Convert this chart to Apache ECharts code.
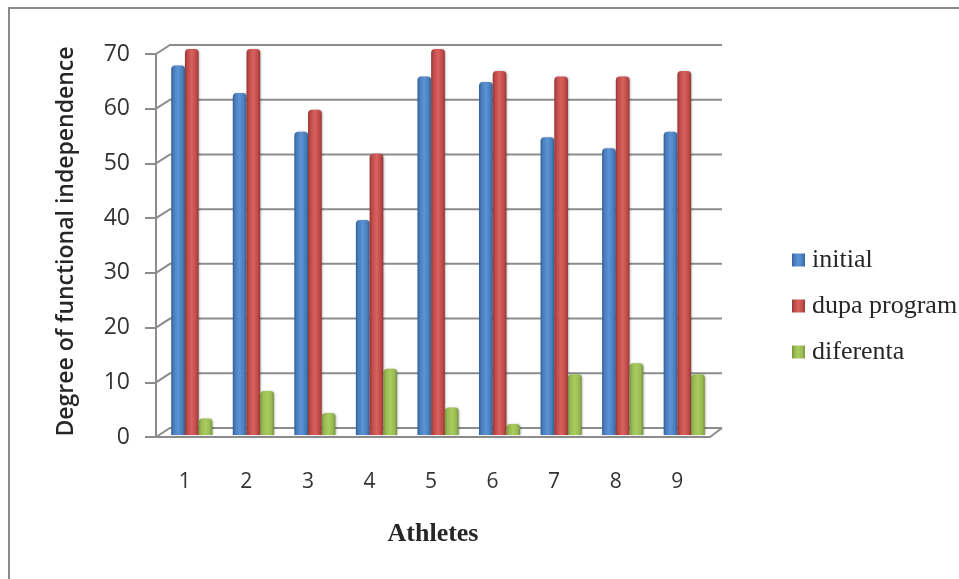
<!DOCTYPE html>
<html><head><meta charset="utf-8">
<style>html,body{margin:0;padding:0;background:#fff}#c{width:959px;height:579px}</style>
<script src="https://cdn.jsdelivr.net/npm/echarts@6/dist/echarts.min.js"></script>
</head><body><div id="c"></div>
<script>
const categories=['1','2','3','4','5','6','7','8','9'];
const initial=[67,62,55,39,65,64,54,52,55];
const dupaProgram=[70,70,59,51,70,66,65,65,66];
const diferenta=[3,8,4,12,5,2,11,13,11];
const valueTicks=[0,10,20,30,40,50,60,70];
const DX=14,DY=-9;
const grey='#8c8c8c';
function grad(l,m,d){return {type:'linear',x:0,y:0,x2:1,y2:0,colorStops:[{offset:0,color:d},{offset:.18,color:m},{offset:.5,color:l},{offset:.82,color:m},{offset:1,color:d}]};}
function bar(name,data,l,m,d){return {name,type:'bar',xAxisIndex:1,yAxisIndex:1,data,barWidth:13.7,barGap:'0%',z:5,
  itemStyle:{color:grad(l,m,d),borderRadius:[4,4,0,0],shadowColor:'rgba(0,0,0,.25)',shadowBlur:2,shadowOffsetX:1}};}
const chart=echarts.init(document.getElementById('c'),null,{renderer:'canvas'});
chart.setOption({
  animation:false,backgroundColor:'#fff',
  grid:[
    {left:156,width:554,top:54,height:383},
    {left:161,width:554,top:49,height:386}
  ],
  xAxis:[
    {type:'category',gridIndex:0,data:categories,name:'Athletes',nameLocation:'middle',nameGap:84,
     nameTextStyle:{fontFamily:'Liberation Serif',fontWeight:'bold',fontSize:26,color:'#262626'},
     axisLine:{lineStyle:{color:grey,width:2}},axisTick:{alignWithLabel:false,length:9,lineStyle:{color:grey,width:2}},
     axisLabel:{margin:35,fontFamily:'Open Sans',fontSize:21,color:'#333',padding:[0,4,0,0]}},
    {type:'category',gridIndex:1,data:categories,show:false}
  ],
  yAxis:[
    {type:'value',gridIndex:0,min:0,max:70,interval:10,
     name:'Degree of functional independence',nameLocation:'middle',nameGap:78,
     nameTextStyle:{fontFamily:'Open Sans',fontWeight:600,fontSize:23,color:'#262626',padding:[0,0,0,8]},
     axisLine:{show:true,lineStyle:{color:grey,width:2}},axisTick:{show:true,length:11,lineStyle:{color:grey,width:2}},
     splitLine:{show:false},
     axisLabel:{margin:26,fontFamily:'Open Sans',fontSize:23,color:'#333'}},
    {type:'value',gridIndex:1,min:0,max:70,interval:10,show:false}
  ],
  legend:{orient:'vertical',left:787,top:240,itemWidth:13,itemHeight:13,itemGap:16,icon:'rect',
    data:['initial','dupa program','diferenta'],
    textStyle:{fontFamily:'Liberation Serif',fontSize:26,color:'#262626',padding:[0,0,0,2],lineHeight:30}},
  series:[
    {type:'custom',xAxisIndex:0,yAxisIndex:0,coordinateSystem:'cartesian2d',z:1,silent:true,
     data:valueTicks.map(v=>[0,v]),encode:{y:1},
     renderItem(p,api){
       const a=api.coord([0,api.value(1)]);
       const r=p.coordSys.x+p.coordSys.width;
       const x0=p.coordSys.x;
       const s={stroke:grey,lineWidth:2,fill:null};
       return {type:'polyline',shape:{points:[[x0,a[1]],[x0+DX,a[1]+DY],[r+DX-2,a[1]+DY]]},style:s};
     }},
    {type:'custom',xAxisIndex:0,yAxisIndex:0,coordinateSystem:'cartesian2d',z:1,silent:true,
     data:[[0,0]],encode:{y:1},
     renderItem(p,api){
       const a=api.coord([0,0]);
       const r=p.coordSys.x+p.coordSys.width;
       return {type:'polyline',shape:{points:[[r,a[1]],[r+DX-2,a[1]+DY]]},style:{stroke:grey,lineWidth:2,fill:null}};
     }},
    bar('initial',initial,'#5b93d6','#4a7ebb','#2f5f98'),
    bar('dupa program',dupaProgram,'#d9625f','#be4b48','#943634'),
    bar('diferenta',diferenta,'#a9cc5c','#98b954','#76923c')
  ],
  color:['#4a7ebb','#be4b48','#98b954'],
  graphic:[{type:'polyline',silent:true,z:0,shape:{points:[[9,579],[9,8],[959,8]]},style:{stroke:'#8a8a8a',lineWidth:2,fill:null}}]
});
</script></body></html>
